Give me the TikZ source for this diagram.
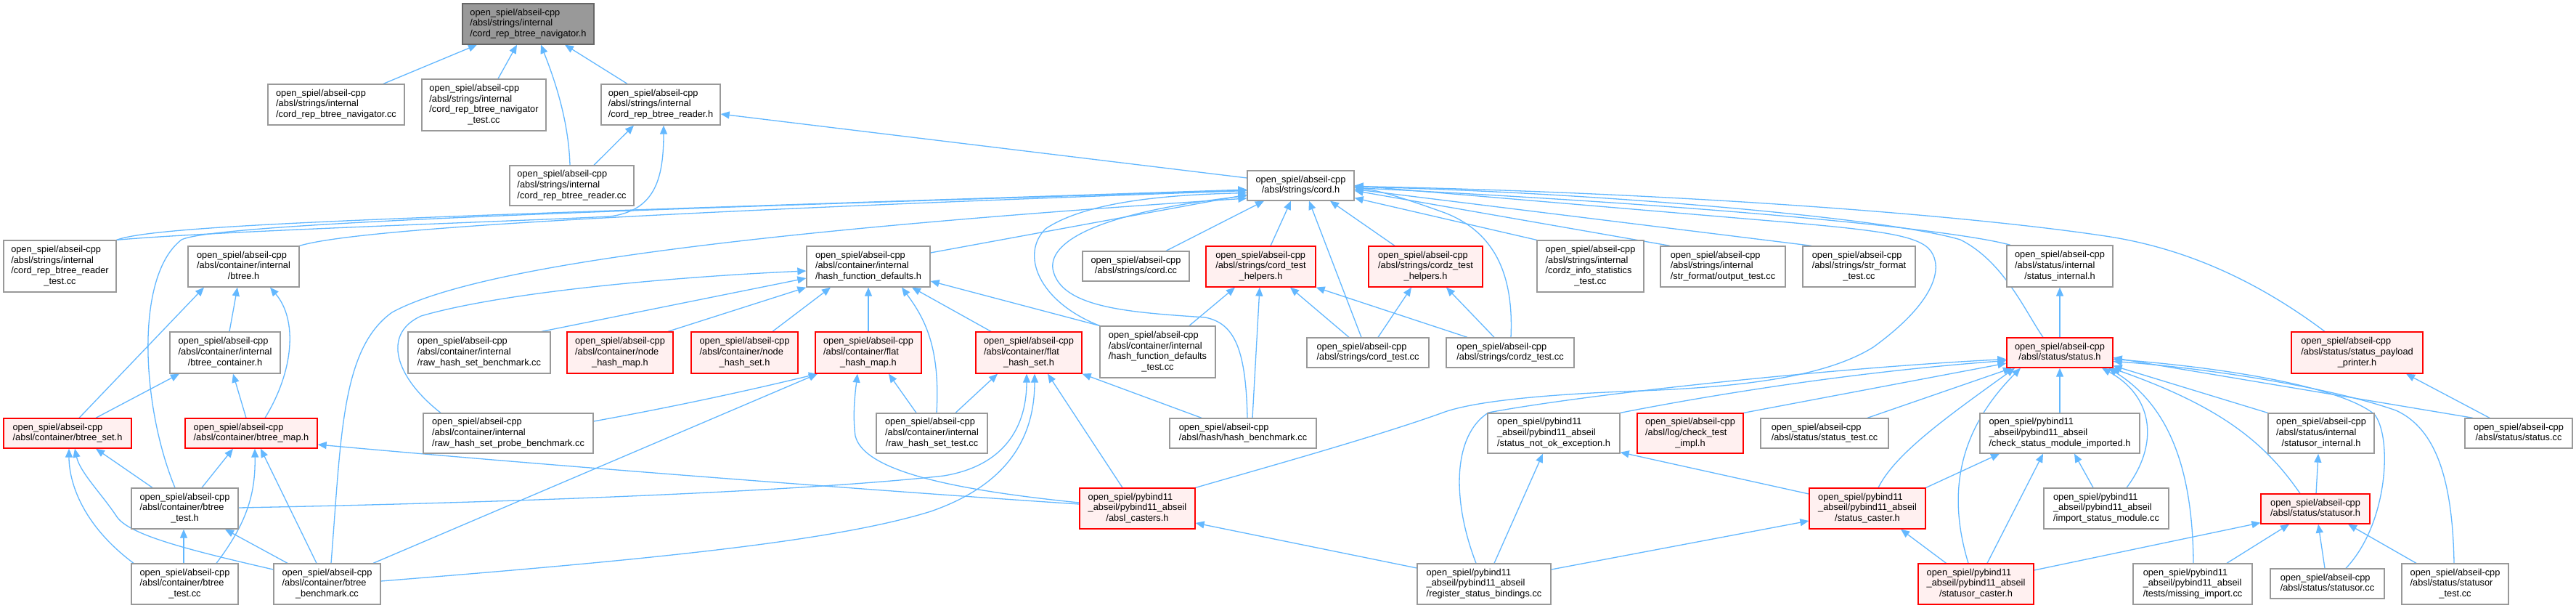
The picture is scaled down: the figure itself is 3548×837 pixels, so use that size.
\documentclass[tikz,border=0pt]{standalone}
\usepackage{fontspec}
\setmainfont{Liberation Sans}
\usetikzlibrary{arrows.meta,calc}
\definecolor{edgec}{HTML}{63B8FF}
\definecolor{nbord}{HTML}{999999}
\definecolor{rfill}{HTML}{FFF0F0}
\definecolor{rootf}{HTML}{999999}
\definecolor{rootb}{HTML}{666666}
\newcommand{\nlab}[2]{\begin{tabular}{@{}l@{}}#1\\\multicolumn{1}{@{}c@{}}{#2}\end{tabular}}
\newcommand{\osa}{open\_spiel/abseil-cpp}
\newcommand{\osp}{open\_spiel/pybind11}
\newcommand{\pya}{\_abseil/pybind11\_abseil}
\pgfdeclarelayer{bg}
\pgfsetlayers{bg,main}
\begin{document}
\begin{tikzpicture}[x=1pt,y=-1pt,
  box/.style={draw=nbord, fill=white, line width=1.3pt, inner sep=0pt, font=\fontsize{12.8}{14.8}\selectfont},
  rbox/.style={box, draw=red, fill=rfill},
  root/.style={box, draw=rootb, fill=rootf},
  dep/.style={draw=edgec, line width=1.3pt, -{Triangle[length=12pt,width=10pt]}},
]
\useasboundingbox (0,0) rectangle (3548,837);
% ---------- nodes ----------
\node[root, minimum width=181pt, minimum height=56pt] (N0) at (727.5,33) {\nlab{\osa\\/absl/strings/internal}{/cord\_rep\_btree\_navigator.h}};
\node[box, minimum width=188pt, minimum height=56pt] (navcc) at (463,144) {\nlab{\osa\\/absl/strings/internal}{/cord\_rep\_btree\_navigator.cc}};
\node[box, minimum width=171pt, minimum height=71pt] (navtest) at (666.5,144.5) {\nlab{\osa\\/absl/strings/internal\\/cord\_rep\_btree\_navigator}{\_test.cc}};
\node[box, minimum width=164pt, minimum height=56pt] (readerh) at (910,144) {\nlab{\osa\\/absl/strings/internal}{/cord\_rep\_btree\_reader.h}};
\node[box, minimum width=171pt, minimum height=55pt] (readercc) at (787.5,255.5) {\nlab{\osa\\/absl/strings/internal}{/cord\_rep\_btree\_reader.cc}};
\node[box, minimum width=155pt, minimum height=71pt] (readertest) at (82.5,366.5) {\nlab{\osa\\/absl/strings/internal\\/cord\_rep\_btree\_reader}{\_test.cc}};
\node[box, minimum width=153pt, minimum height=56pt] (btreeh) at (335.5,367) {\nlab{\osa\\/absl/container/internal}{/btree.h}};
\node[box, minimum width=147pt, minimum height=41pt] (cordh) at (1791.5,255.5) {\nlab{\osa}{/absl/strings/cord.h}};
\node[box, minimum width=170pt, minimum height=56pt] (hfd) at (1196,367) {\nlab{\osa\\/absl/container/internal}{/hash\_function\_defaults.h}};
\node[box, minimum width=147pt, minimum height=41pt] (cordcc) at (1564.5,366.5) {\nlab{\osa}{/absl/strings/cord.cc}};
\node[rbox, minimum width=151pt, minimum height=56pt] (cth) at (1736.5,367) {\nlab{\osa\\/absl/strings/cord\_test}{\_helpers.h}};
\node[rbox, minimum width=157pt, minimum height=56pt] (czth) at (1963.5,367) {\nlab{\osa\\/absl/strings/cordz\_test}{\_helpers.h}};
\node[box, minimum width=147pt, minimum height=71pt] (czinfo) at (2190.5,366.5) {\nlab{\osa\\/absl/strings/internal\\/cordz\_info\_statistics}{\_test.cc}};
\node[box, minimum width=172pt, minimum height=56pt] (outputtest) at (2373,367) {\nlab{\osa\\/absl/strings/internal}{/str\_format/output\_test.cc}};
\node[box, minimum width=155pt, minimum height=56pt] (strfmt) at (2560.5,367) {\nlab{\osa\\/absl/strings/str\_format}{\_test.cc}};
\node[box, minimum width=146pt, minimum height=57pt] (statusint) at (2837,366.5) {\nlab{\osa\\/absl/status/internal}{/status\_internal.h}};
\node[rbox, minimum width=181pt, minimum height=57pt] (payload) at (3246.5,485.5) {\nlab{\osa\\/absl/status/status\_payload}{\_printer.h}};
\node[box, minimum width=152pt, minimum height=57pt] (btreecont) at (310,485.5) {\nlab{\osa\\/absl/container/internal}{/btree\_container.h}};
\node[box, minimum width=196pt, minimum height=57pt] (rawbench) at (660,485.5) {\nlab{\osa\\/absl/container/internal}{/raw\_hash\_set\_benchmark.cc}};
\node[rbox, minimum width=146pt, minimum height=57pt] (nodemap) at (854,485.5) {\nlab{\osa\\/absl/container/node}{\_hash\_map.h}};
\node[rbox, minimum width=147pt, minimum height=57pt] (nodeset) at (1025.5,485.5) {\nlab{\osa\\/absl/container/node}{\_hash\_set.h}};
\node[rbox, minimum width=146pt, minimum height=57pt] (flatmap) at (1196,485.5) {\nlab{\osa\\/absl/container/flat}{\_hash\_map.h}};
\node[rbox, minimum width=146pt, minimum height=57pt] (flatset) at (1417,485.5) {\nlab{\osa\\/absl/container/flat}{\_hash\_set.h}};
\node[box, minimum width=159pt, minimum height=71pt] (hfdtest) at (1594.5,484.5) {\nlab{\osa\\/absl/container/internal\\/hash\_function\_defaults}{\_test.cc}};
\node[box, minimum width=168pt, minimum height=41pt] (cordtest) at (1884,485.5) {\nlab{\osa}{/absl/strings/cord\_test.cc}};
\node[box, minimum width=176pt, minimum height=41pt] (cordztest) at (2080,485.5) {\nlab{\osa}{/absl/strings/cordz\_test.cc}};
\node[rbox, minimum width=146pt, minimum height=41pt] (statush) at (2837,485.5) {\nlab{\osa}{/absl/status/status.h}};
\node[rbox, minimum width=176pt, minimum height=41pt] (btreeset) at (93,596.5) {\nlab{\osa}{/absl/container/btree\_set.h}};
\node[rbox, minimum width=182pt, minimum height=41pt] (btreemap) at (346,596.5) {\nlab{\osa}{/absl/container/btree\_map.h}};
\node[box, minimum width=234pt, minimum height=55pt] (probebench) at (700,596.5) {\nlab{\osa\\/absl/container/internal}{/raw\_hash\_set\_probe\_benchmark.cc}};
\node[box, minimum width=153pt, minimum height=55pt] (rawtest) at (1283.5,596.5) {\nlab{\osa\\/absl/container/internal}{/raw\_hash\_set\_test.cc}};
\node[box, minimum width=202pt, minimum height=41pt] (hashbench) at (1712,596.5) {\nlab{\osa}{/absl/hash/hash\_benchmark.cc}};
\node[box, minimum width=182pt, minimum height=55pt] (notok) at (2140,596.5) {\nlab{\osp\\\pya}{/status\_not\_ok\_exception.h}};
\node[rbox, minimum width=146pt, minimum height=55pt] (checktest) at (2328,596.5) {\nlab{\osa\\/absl/log/check\_test}{\_impl.h}};
\node[box, minimum width=176pt, minimum height=41pt] (statustest) at (2513,596.5) {\nlab{\osa}{/absl/status/status\_test.cc}};
\node[box, minimum width=220pt, minimum height=55pt] (checkmod) at (2837,596.5) {\nlab{\osp\\\pya}{/check\_status\_module\_imported.h}};
\node[box, minimum width=146pt, minimum height=55pt] (statusorint) at (3197,596.5) {\nlab{\osa\\/absl/status/internal}{/statusor\_internal.h}};
\node[box, minimum width=148pt, minimum height=41pt] (statuscc) at (3469,596.5) {\nlab{\osa}{/absl/status/status.cc}};
\node[box, minimum width=147pt, minimum height=56pt] (btreetesth) at (254.5,700) {\nlab{\osa\\/absl/container/btree}{\_test.h}};
\node[rbox, minimum width=159pt, minimum height=56pt] (abslcasters) at (1566.5,700) {\nlab{\osp\\\pya}{/absl\_casters.h}};
\node[rbox, minimum width=160pt, minimum height=56pt] (statuscaster) at (2572,700) {\nlab{\osp\\\pya}{/status\_caster.h}};
\node[box, minimum width=172pt, minimum height=56pt] (importmod) at (2901,700) {\nlab{\osp\\\pya}{/import\_status\_module.cc}};
\node[rbox, minimum width=150pt, minimum height=41pt] (statusor) at (3189,700.5) {\nlab{\osa}{/absl/status/statusor.h}};
\node[box, minimum width=147pt, minimum height=56pt] (btreetestcc) at (254.5,804) {\nlab{\osa\\/absl/container/btree}{\_test.cc}};
\node[box, minimum width=147pt, minimum height=56pt] (btreebench) at (450.5,804) {\nlab{\osa\\/absl/container/btree}{\_benchmark.cc}};
\node[box, minimum width=184pt, minimum height=56pt] (regbind) at (2044,804) {\nlab{\osp\\\pya}{/register\_status\_bindings.cc}};
\node[rbox, minimum width=159pt, minimum height=56pt] (statusorcaster) at (2721.5,804) {\nlab{\osp\\\pya}{/statusor\_caster.h}};
\node[box, minimum width=164pt, minimum height=56pt] (missing) at (3020,804) {\nlab{\osp\\\pya}{/tests/missing\_import.cc}};
\node[box, minimum width=157pt, minimum height=41pt] (statusorcc) at (3205.5,803.5) {\nlab{\osa}{/absl/status/statusor.cc}};
\node[box, minimum width=147pt, minimum height=56pt] (statusortest) at (3381.5,804) {\nlab{\osa\\/absl/status/statusor}{\_test.cc}};
% ---------- edges ----------
\begin{pgfonlayer}{bg}
\fill[white] (0,0) rectangle (3548,837);
% navigator / reader
\draw[dep] ([xshift=65pt]navcc.north) -- ([xshift=-70.5pt]N0.south);
\draw[dep] ([xshift=19.5pt]navtest.north) -- ([xshift=-15.5pt]N0.south);
\draw[dep] ([xshift=-2.5pt]readercc.north) .. controls (783,160) and (760,100) .. ([xshift=17.5pt]N0.south);
\draw[dep] ([xshift=-46pt]readerh.north) -- ([xshift=50.5pt]N0.south);
\draw[dep] ([xshift=30.5pt]readercc.north) -- ([xshift=-37pt]readerh.south);
\draw[dep] (readertest.north east) .. controls (300,318) and (700,305) .. (840,298) .. controls (900,290) and (914,250) .. ([xshift=4pt]readerh.south);
\draw[dep] ([yshift=10.5pt]cordh.west) -- ([yshift=-13pt]readerh.east);
% into cord.h (left)
\draw[dep] (readertest.north east) .. controls (220,308) and (600,298) .. ([yshift=-5.5pt]cordh.west);
\draw[dep] (btreeh.north east) .. controls (480,318) and (800,295) .. ([yshift=-7pt]cordh.west);
\draw[dep] ([xshift=-13.5pt]btreetesth.north) .. controls (195,560) and (185,380) .. (250,330) .. controls (300,305) and (1000,285) .. ([yshift=-6.5pt]cordh.west);
\draw[dep] ([xshift=5.5pt]btreebench.north) .. controls (470,600) and (470,480) .. (540,430) .. controls (650,370) and (1000,320) .. ([yshift=-17.5pt]cordh.west);
\draw[dep] ([yshift=19pt]hfd.east) -- ([yshift=-12.5pt]cordh.west);
\draw[dep] (hfdtest.north west) .. controls (1430,415) and (1405,350) .. (1440,315) .. controls (1500,275) and (1620,268) .. ([yshift=-10pt]cordh.west);
\draw[dep] ([xshift=6pt]hashbench.north) .. controls (1716,480) and (1700,445) .. (1660,437) .. controls (1560,430) and (1460,425) .. (1450,370) .. controls (1445,330) and (1520,292) .. ([yshift=-14pt]cordh.west);
% into cord.h (below)
\draw[dep] ([xshift=41.5pt]cordcc.north) -- ([xshift=-50.5pt]cordh.south);
\draw[dep] ([xshift=13.5pt]cth.north) -- ([xshift=-13.5pt]cordh.south);
\draw[dep] ([xshift=-9pt]cordtest.north) -- ([xshift=11.5pt]cordh.south);
\draw[dep] ([xshift=-42.5pt]czth.north) -- ([xshift=40.5pt]cordh.south);
% into cord.h (right)
\draw[dep] ([xshift=1pt]cordztest.north) .. controls (2085,380) and (2060,320) .. (1990,293) .. controls (1940,275) and (1900,262) .. ([yshift=-3pt]cordh.east);
\draw[dep] (czinfo.north west) -- ([yshift=-17pt]cordh.east);
\draw[dep] ([xshift=-73pt]outputtest.north) -- ([yshift=-7pt]cordh.east);
\draw[dep] ([xshift=-65.5pt]strfmt.north) -- ([yshift=-5pt]cordh.east);
\draw[dep] ([xshift=-68pt]statusint.north) .. controls (2700,318) and (2400,285) .. ([yshift=-3pt]cordh.east);
\draw[dep] ([xshift=-23pt]statush.north) .. controls (2790,430) and (2760,360) .. (2700,330) .. controls (2600,300) and (2200,265) .. ([yshift=-1.5pt]cordh.east);
\draw[dep] ([xshift=-44.5pt]payload.north) .. controls (3100,380) and (3000,340) .. (2900,325) .. controls (2700,295) and (2300,265) .. ([yshift=-1pt]cordh.east);
\draw[dep] (abslcasters.north east) .. controls (1720,650) and (1900,600) .. (1990,567) .. controls (2040,550) and (2150,542) .. (2260,538) .. controls (2420,532) and (2520,515) .. (2580,478) .. controls (2660,420) and (2675,375) .. (2662,350) .. controls (2650,325) and (2600,318) .. (2450,305) -- (cordh.east);
% btree family
\draw[dep] ([xshift=16pt]btreeset.north) -- ([xshift=-54.5pt]btreeh.south);
\draw[dep] ([xshift=6pt]btreecont.north) -- ([xshift=-8.5pt]btreeh.south);
\draw[dep] ([xshift=19pt]btreemap.north) .. controls (405,510) and (410,440) .. ([xshift=36.5pt]btreeh.south);
\draw[dep] ([xshift=39pt]btreeset.north) -- ([xshift=-63pt]btreecont.south);
\draw[dep] ([xshift=-7pt]btreemap.north) -- ([xshift=11pt]btreecont.south);
\draw[dep] ([xshift=-44.5pt]btreetesth.north) -- ([xshift=39pt]btreeset.south);
\draw[dep] ([xshift=-70.5pt]btreetestcc.north) .. controls (110,720) and (95,660) .. ([xshift=2pt]btreeset.south);
\draw[dep] ([yshift=20pt]btreebench.west) .. controls (250,755) and (175,735) .. (160,710) .. controls (140,680) and (110,650) .. ([xshift=10pt]btreeset.south);
\draw[dep] ([xshift=23.5pt]btreetesth.north) -- ([xshift=-25pt]btreemap.south);
\draw[dep] ([xshift=43.5pt]btreetestcc.north) .. controls (340,720) and (352,680) .. ([xshift=5pt]btreemap.south);
\draw[dep] ([xshift=-14.5pt]btreebench.north) -- ([xshift=13pt]btreemap.south);
\draw[dep] ([xshift=-1.5pt]btreetestcc.north) -- ([xshift=-1.5pt]btreetesth.south);
\draw[dep] ([xshift=-54.5pt]btreebench.north) -- ([xshift=55.5pt]btreetesth.south);
\draw[dep] ([yshift=6pt]abslcasters.west) .. controls (1300,682) and (800,645) .. ([yshift=-15.5pt]btreemap.east);
\draw[dep] ([yshift=1pt]btreetesth.east) .. controls (800,690) and (1150,672) .. (1300,655) .. controls (1390,640) and (1414,580) .. ([xshift=-3pt]flatset.south);
\draw[dep] ([yshift=4pt]btreebench.east) .. controls (900,770) and (1150,745) .. (1282,704) .. controls (1380,670) and (1425,610) .. ([xshift=8pt]flatset.south);
\draw[dep] ([xshift=63.5pt]btreebench.north) -- ([xshift=-70pt]flatmap.south);
% hash_function_defaults family
\draw[dep] ([xshift=-93pt]probebench.north) .. controls (545,520) and (525,460) .. (580,435) .. controls (700,400) and (950,380) .. ([yshift=-6pt]hfd.west);
\draw[dep] ([xshift=86pt]rawbench.north) -- ([yshift=-16pt]hfd.west);
\draw[dep] ([xshift=66pt]nodemap.north) -- (hfd.south west);
\draw[dep] ([xshift=38.5pt]nodeset.north) -- ([xshift=-52pt]hfd.south);
\draw[dep] (flatmap.north) -- (hfd.south);
\draw[dep] ([xshift=6.5pt]rawtest.north) .. controls (1295,480) and (1275,440) .. ([xshift=46pt]hfd.south);
\draw[dep] ([xshift=-52pt]flatset.north) -- ([xshift=60pt]hfd.south);
\draw[dep] (hfdtest.north west) -- ([yshift=-20pt]hfd.east);
\draw[dep] ([yshift=16.5pt]probebench.east) .. controls (900,565) and (1000,545) .. ([xshift=-70pt]flatmap.south);
\draw[dep] ([xshift=-21.5pt]rawtest.north) -- ([xshift=28pt]flatmap.south);
\draw[dep] ([yshift=8pt]abslcasters.west) .. controls (1320,675) and (1190,650) .. (1178,600) .. controls (1174,570) and (1178,540) .. ([xshift=-15pt]flatmap.south);
\draw[dep] ([xshift=32.5pt]rawtest.north) -- ([xshift=-43pt]flatset.south);
\draw[dep] ([xshift=-20.5pt]abslcasters.north) -- ([xshift=26pt]flatset.south);
\draw[dep] ([xshift=-57pt]hashbench.north) -- (flatset.south east);
% cord test helpers
\draw[dep] ([xshift=43.5pt]hfdtest.north) -- ([xshift=-35.5pt]cth.south);
\draw[dep] ([xshift=13pt]hashbench.north) -- ([xshift=-1.5pt]cth.south);
\draw[dep] ([xshift=-26pt]cordtest.north) -- ([xshift=40.5pt]cth.south);
\draw[dep] ([xshift=-59pt]cordztest.north) -- (cth.south east);
\draw[dep] ([xshift=14pt]cordtest.north) -- ([xshift=-19.5pt]czth.south);
\draw[dep] ([xshift=-22pt]cordztest.north) -- ([xshift=28.5pt]czth.south);
% status family
\draw[dep] (statush.north) -- (statusint.south);
\draw[dep] (checktest.north east) -- ([yshift=-14.5pt]statush.west);
\draw[dep] ([xshift=59pt]statustest.north) -- ([xshift=-66pt]statush.south);
\draw[dep] (notok.north east) .. controls (2350,545) and (2550,512) .. ([yshift=-11pt]statush.west);
\draw[dep] ([xshift=-11pt]regbind.north) .. controls (2000,690) and (2000,600) .. (2050,568) .. controls (2200,540) and (2550,505) .. ([yshift=-9pt]statush.west);
\draw[dep] ([xshift=15pt]statuscaster.north) .. controls (2610,625) and (2680,575) .. ([xshift=-62pt]statush.south);
\draw[dep] ([xshift=-10.5pt]statusorcaster.north) .. controls (2685,690) and (2690,600) .. ([xshift=-54pt]statush.south);
\draw[dep] (checkmod.north) -- (statush.south);
\draw[dep] ([xshift=28pt]importmod.north) .. controls (2975,610) and (2965,545) .. ([xshift=58pt]statush.south);
\draw[dep] ([xshift=1pt]missing.north) .. controls (3020,650) and (2990,560) .. ([xshift=67pt]statush.south);
\draw[dep] ([xshift=-21pt]statusor.north) .. controls (3120,610) and (3060,560) .. ([xshift=71pt]statush.south);
\draw[dep] (statusorint.north west) -- ([yshift=-18pt]statush.east);
\draw[dep] ([xshift=25.5pt]statusorcc.north) .. controls (3290,720) and (3295,600) .. (3270,570) .. controls (3220,530) and (3050,505) .. ([yshift=-9pt]statush.east);
\draw[dep] ([xshift=-1.5pt]statusortest.north) .. controls (3378,660) and (3355,590) .. (3300,565) .. controls (3200,530) and (3020,505) .. ([yshift=-12pt]statush.east);
\draw[dep] ([xshift=-63pt]statuscc.north) -- ([yshift=-7pt]statush.east);
\draw[dep] ([xshift=-40pt]statuscc.north) -- ([xshift=67.5pt]payload.south);
\draw[dep] ([xshift=1pt]statusor.north) -- ([xshift=-4pt]statusorint.south);
\draw[dep] ([yshift=19pt]statusorcaster.east) -- ([yshift=2pt]statusor.south west);
\draw[dep] ([xshift=47pt]missing.north) -- ([xshift=-36pt]statusor.south);
\draw[dep] ([xshift=-3.5pt]statusorcc.north) -- ([xshift=4pt]statusor.south);
\draw[dep] ([xshift=-53.5pt]statusortest.north) -- ([xshift=45pt]statusor.south);
\draw[dep] (statuscaster.north east) -- ([xshift=-83pt]checkmod.south);
\draw[dep] ([xshift=15.5pt]statusorcaster.north) -- ([xshift=-23pt]checkmod.south);
\draw[dep] ([xshift=-18pt]importmod.north) -- ([xshift=20pt]checkmod.south);
\draw[dep] ([xshift=-41pt]statusorcaster.north) -- ([xshift=46pt]statuscaster.south);
\draw[dep] ([yshift=20pt]regbind.east) -- ([yshift=-17pt]statuscaster.west);
\draw[dep] ([yshift=20pt]statuscaster.west) -- ([yshift=2pt]notok.south east);
\draw[dep] ([xshift=14pt]regbind.north) -- ([xshift=-15pt]notok.south);
\draw[dep] ([yshift=22pt]regbind.west) -- ([yshift=-20pt]abslcasters.east);
\end{pgfonlayer}
\end{tikzpicture}
\end{document}
